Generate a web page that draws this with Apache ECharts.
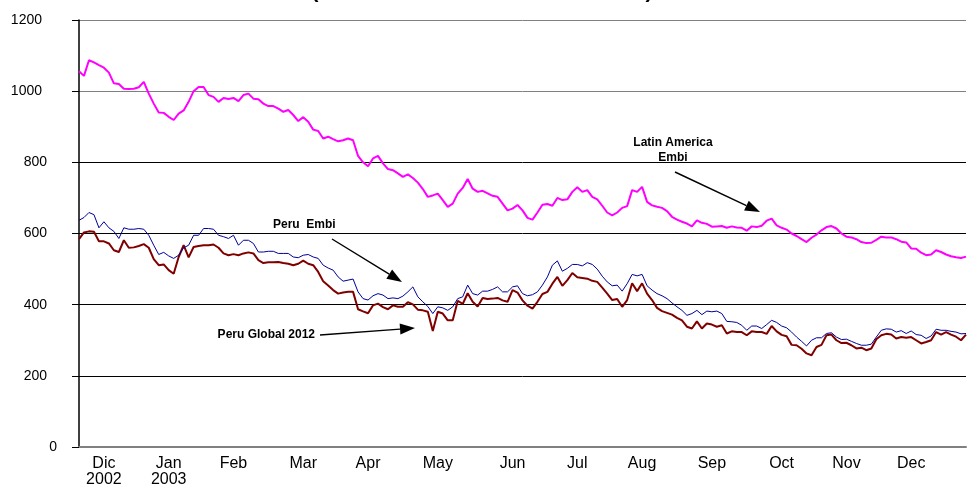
<!DOCTYPE html>
<html>
<head>
<meta charset="utf-8">
<script src="https://cdn.jsdelivr.net/npm/echarts@6/dist/echarts.min.js"></script>
<style>
html,body{margin:0;padding:0;background:#fff;}
#chart{width:969px;height:488px;}
</style>
</head>
<body>
<div id="chart"></div>
<script>
// Series values (spread, basis points), sampled at equal steps across the period
const latinAmericaEmbi = [
1056,1043,1087,1081,1073,1066,1052,1022,1020,1007,1006,1007,1011,1026,993,965,940,939,928,919,937,946,970,1000,1012,1012,989,984,970,981,978,981,972,989,993,979,977,965,958,958,951,942,947,933,916,927,
914,892,888,867,872,865,859,862,867,862,818,800,789,811,818,797,781,778,769,759,766,756,743,725,703,707,712,694,675,684,712,728,753,726,717,720,713,706,703,684,665,670,680,665,644,
639,659,681,683,678,700,694,696,717,730,717,722,703,696,678,659,651,659,672,677,722,717,731,689,679,675,672,663,647,639,633,628,620,637,630,627,619,620,621,616,620,617,616,608,620,
618,622,636,642,623,616,611,600,593,584,576,588,597,609,618,621,614,600,591,589,584,576,573,574,582,591,589,589,584,577,575,558,557,546,539,541,553,548,541,536,533,531,535
];
const peruEmbi = [
637,645,659,653,616,633,616,606,586,616,612,612,614,612,595,567,541,547,537,530,539,560,567,595,595,614,614,612,595,591,586,595,567,581,581,572,548,548,550,550,544,544,544,534,532,539,
541,534,530,511,503,497,478,466,469,472,436,417,413,425,431,427,417,419,417,424,436,450,422,408,395,375,394,391,384,394,417,422,455,431,427,438,438,443,450,436,436,450,453,431,425,
428,436,455,478,511,523,494,502,513,513,509,518,513,500,480,464,453,455,438,459,485,481,485,453,441,431,425,417,405,394,384,370,375,384,372,382,380,382,375,353,352,350,342,328,340,
340,333,344,356,350,340,335,323,309,297,284,300,307,307,319,321,309,302,303,297,291,286,286,289,309,328,332,331,323,327,319,326,316,314,305,312,331,328,328,325,323,318,319
];
const peruGlobal2012 = [
584,603,606,605,578,578,572,553,548,581,560,561,565,570,560,528,511,513,497,487,534,567,533,562,565,567,567,569,560,544,539,542,539,544,547,544,525,517,519,519,520,517,515,511,515,524,
515,511,492,466,454,441,431,434,436,436,387,381,376,398,403,393,387,398,394,394,407,401,386,384,380,326,380,375,356,356,411,402,432,408,395,419,416,417,419,412,408,441,434,412,397,
389,408,430,436,459,478,453,469,489,477,475,473,467,464,448,431,413,416,394,413,460,438,460,431,413,391,382,377,372,363,356,338,333,353,333,347,344,338,342,319,325,323,323,314,325,
323,323,318,340,325,315,311,287,286,276,263,258,281,287,314,316,300,292,293,286,277,279,272,277,303,314,318,316,305,309,307,309,300,291,295,300,323,316,323,316,310,300,316
];
// Tick labels and the sample index where each month label sits
const monthLabels = ['Dic\n2002','Jan\n2003','Feb','Mar','Apr','May','Jun','Jul','Aug','Sep','Oct','Nov','Dec'];
const monthLabelIndex = [5,18,31,45,58,72,87,100,113,127,141,154,167];
const yTicks = [0,200,400,600,800,1000,1200];
const titleText = '(December 2002 - December 2003)';

const categories = latinAmericaEmbi.map((_, i) => String(i));
const labelMap = {};
monthLabelIndex.forEach((idx, k) => { labelMap[idx] = monthLabels[k]; });

const chart = echarts.init(document.getElementById('chart'), null, {renderer: 'canvas'});

function arrow(x1, y1, x2, y2) {
  const ang = Math.atan2(y2 - y1, x2 - x1);
  const L = 15, W = 5.5;
  const bx = x2 - L * Math.cos(ang), by = y2 - L * Math.sin(ang);
  const px = -Math.sin(ang) * W, py = Math.cos(ang) * W;
  return [
    {type: 'line', shape: {x1: x1, y1: y1, x2: bx, y2: by}, style: {stroke: '#000', lineWidth: 1.4}, silent: true},
    {type: 'polygon', shape: {points: [[x2, y2], [bx + px, by + py], [bx - px, by - py]]}, style: {fill: '#000'}, silent: true}
  ];
}

const annFont = 'bold 12px "Liberation Sans", Arial, sans-serif';
const graphics = [
  {type: 'text', style: {text: titleText, x: 482, y: 3, textAlign: 'center', textVerticalAlign: 'bottom', font: 'bold 21px "Liberation Sans", Arial, sans-serif', lineHeight: 21, fill: '#000'}, silent: true},
  {type: 'text', style: {text: 'Latin America\nEmbi', x: 673, y: 150, textAlign: 'center', textVerticalAlign: 'middle', font: annFont, lineHeight: 15, fill: '#000'}, silent: true},
  {type: 'text', style: {text: 'Peru  Embi', x: 273, y: 225, textAlign: 'left', textVerticalAlign: 'middle', font: annFont, fill: '#000'}, silent: true},
  {type: 'text', style: {text: 'Peru Global 2012', x: 315, y: 335, textAlign: 'right', textVerticalAlign: 'middle', font: annFont, fill: '#000'}, silent: true}
].concat(arrow(675, 172, 760, 212), arrow(332, 239, 402, 282), arrow(320, 335, 415, 328));

const option = {
  animation: false,
  backgroundColor: '#fff',
  grid: {left: 79, right: 0, top: 20, bottom: 41, containLabel: false},
  xAxis: {
    type: 'category',
    data: categories,
    boundaryGap: false,
    axisLine: {show: true, lineStyle: {color: '#808080', width: 2}},
    axisTick: {show: false},
    axisLabel: {
      interval: 0,
      margin: 9,
      color: '#000',
      fontFamily: '"Liberation Sans", Arial, sans-serif',
      fontSize: 16,
      lineHeight: 16,
      formatter: (v, i) => labelMap[i] || ''
    },
    splitLine: {show: false}
  },
  yAxis: {
    type: 'value',
    min: yTicks[0],
    max: yTicks[yTicks.length - 1],
    interval: 200,
    axisLine: {show: true, lineStyle: {color: '#000', width: 1.5}},
    axisTick: {show: true, length: 7, lineStyle: {color: '#000', width: 1}},
    axisLabel: {
      margin: 22,
      color: '#000',
      fontFamily: '"Liberation Sans", Arial, sans-serif',
      fontSize: 14,
      formatter: v => v >= 1000 ? '{w|' + v + '}' : (v >= 100 ? '{m|' + v + '}' : '{s|' + v + '}'),
      rich: {
        w: {padding: [0, 15, 0, 0], fontSize: 14, fontFamily: '"Liberation Sans", Arial, sans-serif'},
        m: {padding: [0, 10, 0, 0], fontSize: 14, fontFamily: '"Liberation Sans", Arial, sans-serif'},
        s: {fontSize: 14, fontFamily: '"Liberation Sans", Arial, sans-serif'}
      }
    },
    splitLine: {show: true, lineStyle: {color: ['#808080', '#000', '#000', '#000', '#000', '#808080', '#808080'], width: 1}}
  },
  series: [
    {name: 'Peru Global 2012', type: 'line', data: peruGlobal2012, showSymbol: false, symbol: 'none',
     lineStyle: {color: '#800000', width: 2}, z: 3},
    {name: 'Peru Embi', type: 'line', data: peruEmbi, showSymbol: false, symbol: 'none',
     lineStyle: {color: '#000099', width: 1}, z: 4},
    {name: 'Latin America Embi', type: 'line', data: latinAmericaEmbi, showSymbol: false, symbol: 'none',
     lineStyle: {color: '#FF00FF', width: 2}, z: 5}
  ],
  graphic: graphics
};
chart.setOption(option);
</script>
</body>
</html>
